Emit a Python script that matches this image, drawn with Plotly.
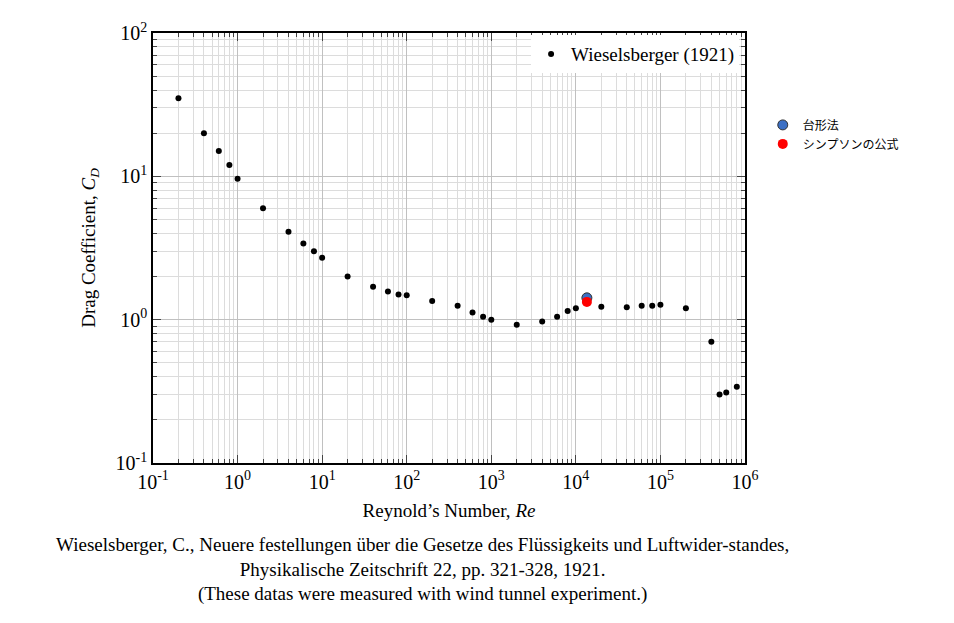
import plotly.graph_objects as go

# Wieselsberger (1921) sphere drag data
re_vals = [0.2, 0.4, 0.6, 0.8, 1, 2, 4, 6, 8, 10, 20, 40, 60, 80, 100, 200, 400, 600, 800,
           1000, 2000, 4000, 6000, 8000, 10000, 20000, 40000, 60000, 80000, 100000, 200000,
           400000, 500000, 600000, 800000]
cd_vals = [35, 20, 15, 12, 9.6, 6, 4.1, 3.4, 3.0, 2.7, 2.0, 1.7, 1.57, 1.5, 1.48, 1.35, 1.25,
           1.12, 1.05, 1.0, 0.92, 0.97, 1.05, 1.15, 1.2, 1.23, 1.22, 1.25, 1.25, 1.27, 1.2,
           0.7, 0.3, 0.31, 0.34]

# computed values
calc_re = [13500]
trap_cd = [1.42]
simpson_cd = [1.33]

xticks = [0.1, 1, 10, 100, 1000, 1e4, 1e5, 1e6]
xtext = ['10<sup>-1</sup>', '10<sup>0</sup>', '10<sup>1</sup>', '10<sup>2</sup>',
         '10<sup>3</sup>', '10<sup>4</sup>', '10<sup>5</sup>', '10<sup>6</sup>']
yticks = [0.1, 1, 10, 100]
ytext = ['10<sup>-1</sup>', '10<sup>0</sup>', '10<sup>1</sup>', '10<sup>2</sup>']

fig = go.Figure()
fig.add_trace(go.Scatter(x=re_vals, y=cd_vals, mode='markers', name='Wieselsberger (1921)',
                         marker=dict(color='black', size=6), legend='legend2'))
fig.add_trace(go.Scatter(x=calc_re, y=trap_cd, mode='markers', name='台形法',
                         marker=dict(color='#3b6fc4', size=10, line=dict(color='#333', width=1))))
fig.add_trace(go.Scatter(x=calc_re, y=simpson_cd, mode='markers', name='シンプソンの公式',
                         marker=dict(color='red', size=10)))

axis_common = dict(type='log', showline=True, linecolor='black', linewidth=1.5, mirror='ticks',
                   ticks='inside', ticklen=8, gridcolor='#c0c0c0', zeroline=False, automargin=False,
                   minor=dict(showgrid=True, gridcolor='#dcdcdc', ticks='inside', ticklen=4, dtick='D1'),
                   tickfont=dict(size=20, color='black'))
fig.update_xaxes(range=[-1, 6], tickvals=xticks, ticktext=xtext,
                 title=dict(text="Reynold’s Number, <i>Re</i>", font=dict(size=19), standoff=12),
                 **axis_common)
fig.update_yaxes(range=[-1, 2], tickvals=yticks, ticktext=ytext,
                 title=dict(text='Drag Coefficient, <i>C<sub>D</sub></i>', font=dict(size=19)),
                 **axis_common)

fig.add_annotation(text='Wieselsberger, C., Neuere festellungen über die Gesetze des Flüssigkeits und Luftwider-standes,<br>'
                        'Physikalische Zeitschrift 22, pp. 321-328, 1921.<br>'
                        '(These datas were measured with wind tunnel experiment.)',
                   xref='paper', yref='paper', x=0.455, y=-0.16, yanchor='top', showarrow=False,
                   font=dict(size=19, color='black', family='Liberation Serif'))

fig.update_layout(
    width=954, height=623,
    margin=dict(l=145, r=217, t=25, b=168),
    plot_bgcolor='white', paper_bgcolor='white',
    font=dict(family='Liberation Serif', color='black'),
    legend=dict(x=1.03, y=0.82, yanchor='top', font=dict(family='Noto Sans CJK JP', size=12),
                tracegroupgap=22, bgcolor='rgba(0,0,0,0)'),
    legend2=dict(x=0.99, y=0.995, xanchor='right', yanchor='top', orientation='h',
                 bgcolor='white', font=dict(size=19), itemwidth=30),
)
fig.write_html("out.html")
